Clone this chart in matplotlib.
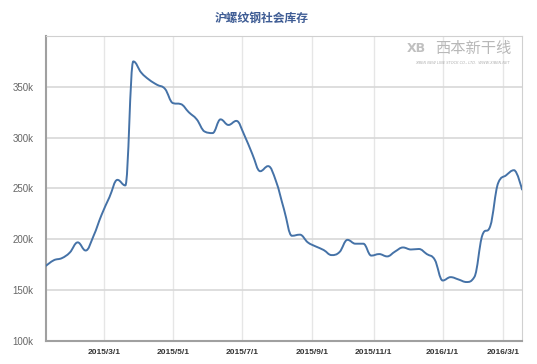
import numpy as np
import pandas as pd
import matplotlib
matplotlib.use('Agg')
import matplotlib.pyplot as plt
from matplotlib.path import Path
from matplotlib.patches import PathPatch

# weekly dates (holiday weeks absent, axis is ordinal like Highstock)
fechas = pd.to_datetime([
    '2015-01-09', '2015-01-16', '2015-01-23', '2015-01-30', '2015-02-06',
    '2015-02-13', '2015-02-20', '2015-02-27', '2015-03-06', '2015-03-13',
    '2015-03-20', '2015-03-27', '2015-04-03', '2015-04-10', '2015-04-17',
    '2015-04-24', '2015-05-01', '2015-05-08', '2015-05-15', '2015-05-22',
    '2015-05-29', '2015-06-05', '2015-06-12', '2015-06-19', '2015-06-26',
    '2015-07-03', '2015-07-10', '2015-07-17', '2015-07-24', '2015-07-31',
    '2015-08-07', '2015-08-14', '2015-08-21', '2015-08-28', '2015-09-04',
    '2015-09-11', '2015-09-18', '2015-09-25', '2015-10-09', '2015-10-16',
    '2015-10-23', '2015-10-30', '2015-11-06', '2015-11-13', '2015-11-20',
    '2015-11-27', '2015-12-04', '2015-12-11', '2015-12-18', '2015-12-25',
    '2016-01-01', '2016-01-08', '2016-01-15', '2016-01-22', '2016-01-29',
    '2016-02-05', '2016-02-19', '2016-02-26', '2016-03-04', '2016-03-11',
    '2016-03-18',
])

# inventario (toneladas)
inventario = [
    174000, 179500, 181500, 187000, 197000, 189000, 203500, 224000, 241500, 258500,
    253000, 375000, 364000, 357000, 352000, 348000, 334000, 333000, 325000, 318000,
    306000, 304500, 318000, 312500, 316500, 302500, 284000, 267000, 272000, 257000,
    229500, 203500, 204600, 197000, 193000, 189500, 184500, 187500, 199500, 195700,
    195700, 184000, 185500, 183200, 188000, 192000, 190000, 190500, 185500, 180000,
    159500, 162800, 160500, 158000, 163000, 204000, 213000, 255500, 263000, 268000,
    249000,
]

etiquetas = ['2015/3/1', '2015/5/1', '2015/7/1', '2015/9/1', '2015/11/1',
             '2016/1/1', '2016/3/1']
yticks = [100000, 150000, 200000, 250000, 300000, 350000]


def spline_path(x, y, smoothing=1.5):
    # curva tipo "spline" de Highcharts con beziers cubicos
    n = len(x)
    denom = smoothing + 1
    lc = [(x[i], y[i]) for i in range(n)]
    rc = [(x[i], y[i]) for i in range(n)]
    for i in range(1, n - 1):
        lx = (smoothing * x[i] + x[i - 1]) / denom
        ly = (smoothing * y[i] + y[i - 1]) / denom
        rx = (smoothing * x[i] + x[i + 1]) / denom
        ry = (smoothing * y[i] + y[i + 1]) / denom
        corr = (ry - ly) * (rx - x[i]) / (rx - lx) + y[i] - ry
        ly += corr
        ry += corr
        if ly > y[i - 1] and ly > y[i]:
            ly = max(y[i - 1], y[i]); ry = 2 * y[i] - ly
        elif ly < y[i - 1] and ly < y[i]:
            ly = min(y[i - 1], y[i]); ry = 2 * y[i] - ly
        if ry > y[i + 1] and ry > y[i]:
            ry = max(y[i + 1], y[i]); ly = 2 * y[i] - ry
        elif ry < y[i + 1] and ry < y[i]:
            ry = min(y[i + 1], y[i]); ly = 2 * y[i] - ry
        lc[i] = (lx, ly)
        rc[i] = (rx, ry)
    verts = [(x[0], y[0])]
    codes = [Path.MOVETO]
    for i in range(1, n):
        verts += [rc[i - 1], lc[i], (x[i], y[i])]
        codes += [Path.CURVE4] * 3
    return Path(verts, codes)


idx = np.arange(len(fechas), dtype=float)
ords = fechas.map(pd.Timestamp.toordinal).to_numpy()
tick_ords = [pd.Timestamp(e.replace('/', '-')).toordinal() for e in etiquetas]
tick_pos = np.interp(tick_ords, ords, idx)

fig = plt.figure(figsize=(5.37, 3.64), dpi=100)
ax = fig.add_axes([46 / 537, 1 - 341 / 364, 476 / 537, 305 / 364])

ax.add_patch(PathPatch(spline_path(idx, np.array(inventario, dtype=float)),
                       facecolor='none', edgecolor='#4572A7', lw=1.4,
                       capstyle='round', joinstyle='round', zorder=3))

ax.set_xlim(idx[0], idx[-1])
ax.set_ylim(100000, 400000)
ax.set_yticks(yticks)
ax.set_yticklabels([f'{v // 1000}k' for v in yticks], fontsize=7,
                   color='#666666', family='Liberation Sans')
ax.set_xticks(tick_pos)
ax.set_xticklabels(etiquetas, fontsize=6, fontweight='bold', color='#333333',
                   family='Liberation Sans')
ax.tick_params(axis='both', length=0)
ax.tick_params(axis='y', pad=9)
ax.tick_params(axis='x', pad=6)

ax.grid(axis='y', color='#d8d8d8', lw=1.2)
ax.grid(axis='x', color='#e6e6e6', lw=1)
ax.set_axisbelow(True)
ax.spines['left'].set_color('#a0a0a0')
ax.spines['left'].set_linewidth(1.5)
ax.spines['bottom'].set_color('#a0a0a0')
ax.spines['bottom'].set_linewidth(1.5)
ax.spines['right'].set_color('#d0d0d0')
ax.spines['top'].set_color('#d0d0d0')

fig.text(262 / 537, 1 - 18 / 364, '沪螺纹钢社会库存', ha='center', va='center',
         fontsize=8.5, fontweight='bold', color='#3E5C94',
         family=['Noto Sans CJK SC', 'DejaVu Sans'])

# marca de agua
fig.text(473 / 537, 1 - 49 / 364, '西本新干线', ha='center', va='center',
         fontsize=11, color='#b8b8b8', style='italic',
         family=['Noto Sans CJK SC', 'DejaVu Sans'])
fig.text(416 / 537, 1 - 49 / 364, 'XB', ha='center', va='center',
         fontsize=9, color='#c0c0c0', fontweight='bold')
fig.text(462 / 537, 1 - 63 / 364, 'XIBEN NEW LINE STOCK CO., LTD.  WWW.XIBEN.NET',
         ha='center', va='center', fontsize=2.6, color='#b0b0b0', style='italic')

fig.savefig('out.png', dpi=100)
